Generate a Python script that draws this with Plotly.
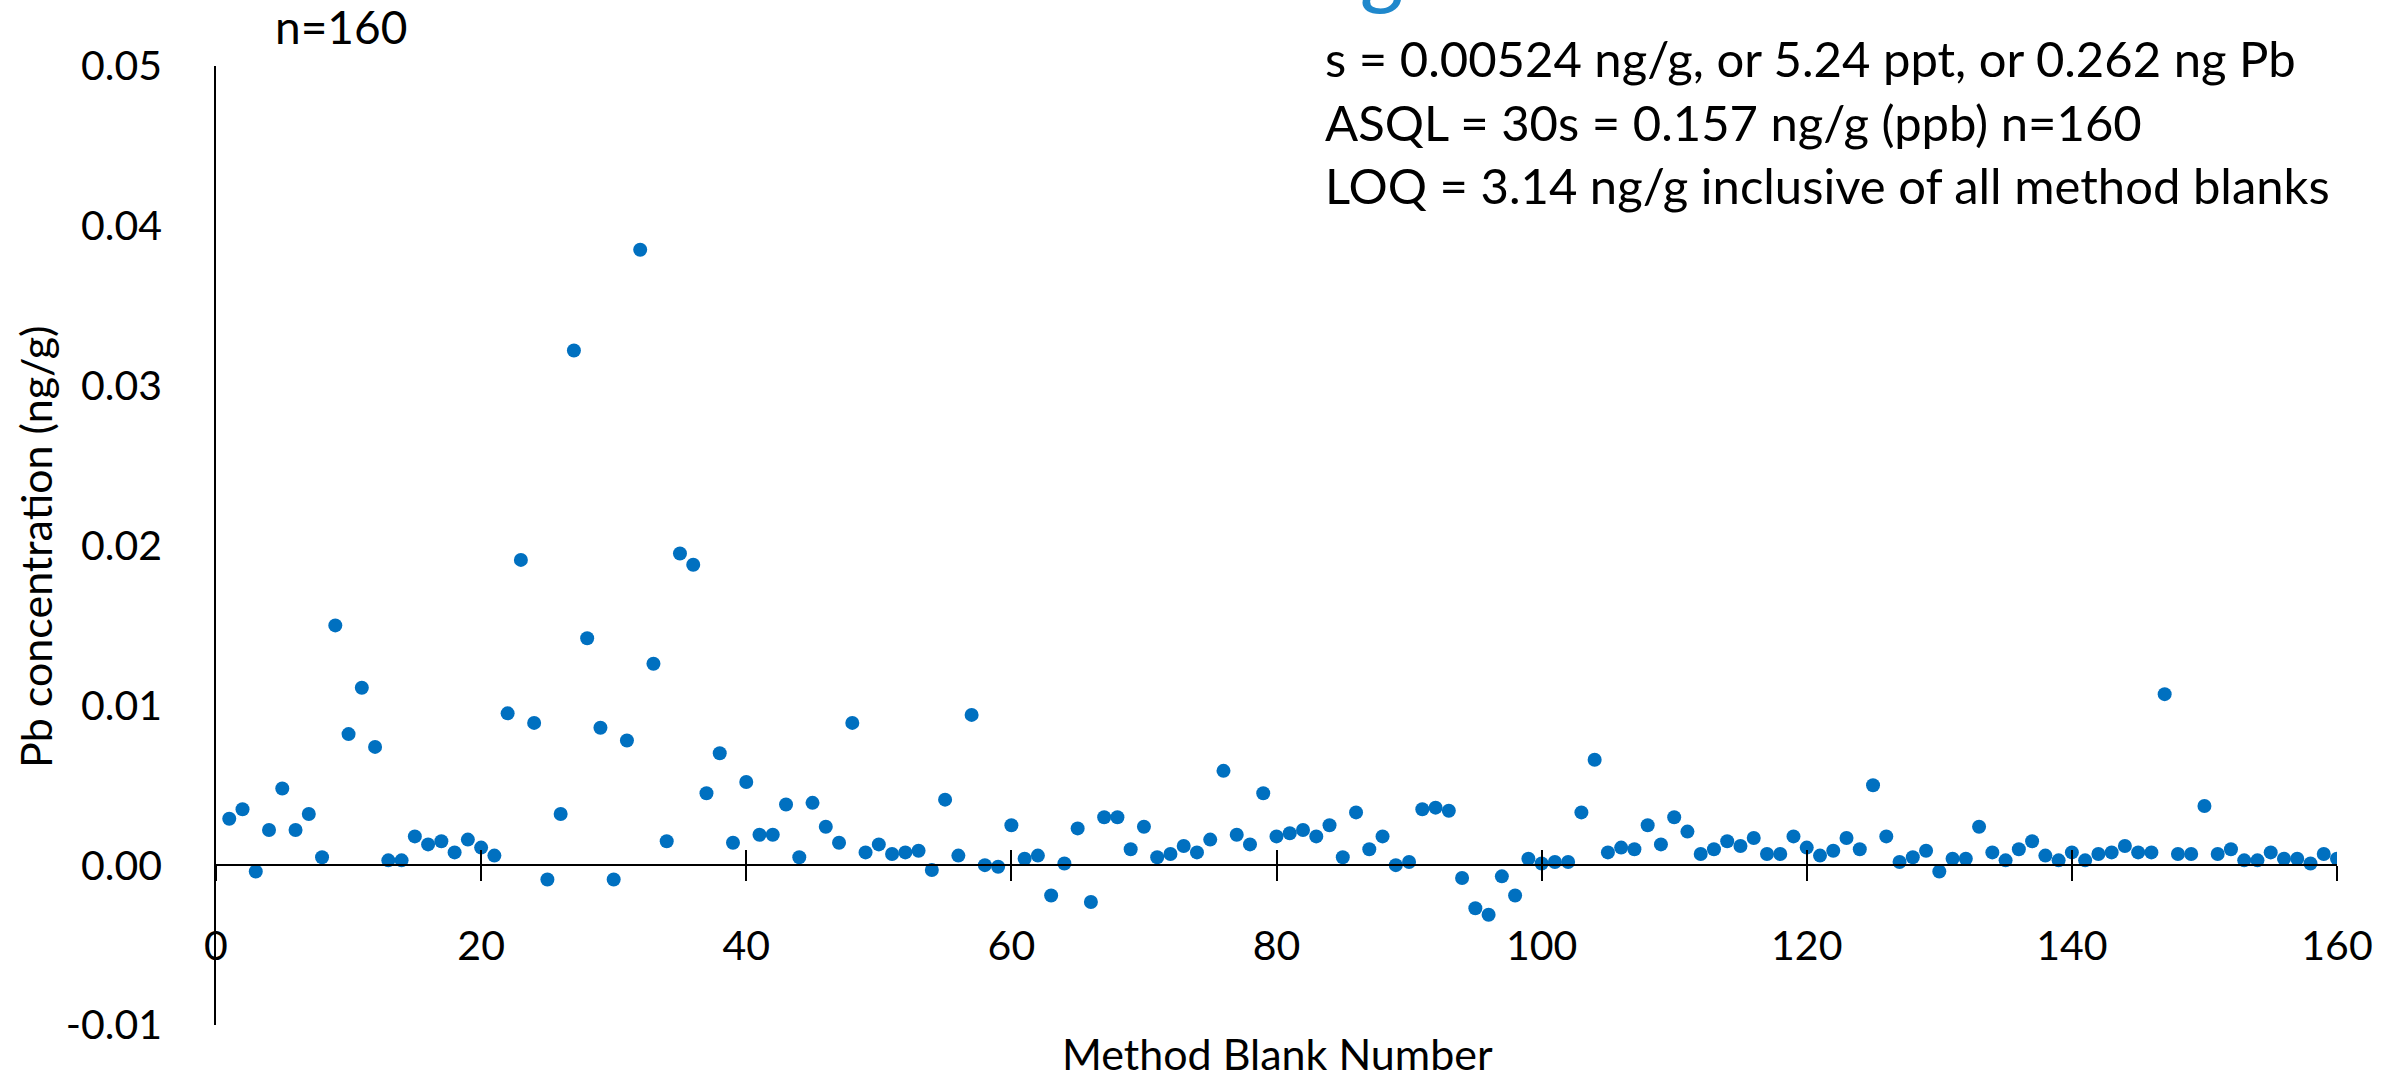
import plotly.graph_objects as go

# ---------------- data ----------------
blank_number = list(range(1, 161))
pb_conc = [
    0.0029, 0.0035, -0.0004, 0.0022, 0.0048, 0.0022, 0.0032, 0.0005, 0.0150, 0.0082,
    0.0111, 0.0074, 0.0003, 0.0003, 0.0018, 0.0013, 0.0015, 0.0008, 0.0016, 0.0011,
    0.0006, 0.0095, 0.0191, 0.0089, -0.0009, 0.0032, 0.0322, 0.0142, 0.0086, -0.0009,
    0.0078, 0.0385, 0.0126, 0.0015, 0.0195, 0.0188, 0.0045, 0.0070, 0.0014, 0.0052,
    0.0019, 0.0019, 0.0038, 0.0005, 0.0039, 0.0024, 0.0014, 0.0089, 0.0008, 0.0013,
    0.0007, 0.0008, 0.0009, -0.0003, 0.0041, 0.0006, 0.0094, 0.0000, -0.0001, 0.0025,
    0.0004, 0.0006, -0.0019, 0.0001, 0.0023, -0.0023, 0.0030, 0.0030, 0.0010, 0.0024,
    0.0005, 0.0007, 0.0012, 0.0008, 0.0016, 0.0059, 0.0019, 0.0013, 0.0045, 0.0018,
    0.0020, 0.0022, 0.0018, 0.0025, 0.0005, 0.0033, 0.0010, 0.0018, 0.0000, 0.0002,
    0.0035, 0.0036, 0.0034, -0.0008, -0.0027, -0.0031, -0.0007, -0.0019, 0.0004, 0.0001,
    0.0002, 0.0002, 0.0033, 0.0066, 0.0008, 0.0011, 0.0010, 0.0025, 0.0013, 0.0030,
    0.0021, 0.0007, 0.0010, 0.0015, 0.0012, 0.0017, 0.0007, 0.0007, 0.0018, 0.0011,
    0.0006, 0.0009, 0.0017, 0.0010, 0.0050, 0.0018, 0.0002, 0.0005, 0.0009, -0.0004,
    0.0004, 0.0004, 0.0024, 0.0008, 0.0003, 0.0010, 0.0015, 0.0006, 0.0003, 0.0008,
    0.0003, 0.0007, 0.0008, 0.0012, 0.0008, 0.0008, 0.0107, 0.0007, 0.0007, 0.0037,
    0.0007, 0.0010, 0.0003, 0.0003, 0.0008, 0.0004, 0.0004, 0.0001, 0.0007, 0.0004,
]
x_tick_vals = [0, 20, 40, 60, 80, 100, 120, 140, 160]
y_tick_vals = [-0.01, 0.0, 0.01, 0.02, 0.03, 0.04, 0.05]
y_tick_text = ["-0.01", "0.00", "0.01", "0.02", "0.03", "0.04", "0.05"]

x_title = "Method Blank Number"
y_title = "Pb concentration (ng/g)"
n_label = "n=160"
stats_lines = [
    "s = 0.00524 ng/g, or 5.24 ppt, or 0.262 ng Pb",
    "ASQL = 30s = 0.157 ng/g (ppb) n=160",
    "LOQ = 3.14 ng/g inclusive of all method blanks",
]
cut_title_fragment = "g"

# ---------------- layout ----------------
FONT = "Lato, 'Open Sans', sans-serif"
W, H = 2405, 1080
L, R, T, B = 216, 68, 66, 55
PW, PH = W - L - R, H - T - B
x_range = [0, 160]
y_range = [-0.01, 0.05]


def px_x(p):
    return (p - L) / PW


def px_y(p):
    return (H - B - p) / PH


zero_pos = (0 - y_range[0]) / (y_range[1] - y_range[0])

fig = go.Figure()
fig.add_trace(go.Scatter(
    x=blank_number, y=pb_conc, mode="markers",
    marker=dict(size=14, color="#0070C0", line=dict(width=0)),
    showlegend=False, hoverinfo="x+y",
))
# empty trace so the overlaid tick axis (upper half of the crossing ticks) is created
fig.add_trace(go.Scatter(x=[], y=[], xaxis="x2", showlegend=False, hoverinfo="skip"))

fig.update_layout(
    width=W, height=H,
    margin=dict(l=L, r=R, t=T, b=B, autoexpand=False),
    paper_bgcolor="white", plot_bgcolor="white",
    font=dict(family=FONT, color="black", size=41),
    showlegend=False,
    xaxis=dict(
        range=x_range, anchor="free", position=zero_pos,
        showline=True, linecolor="black", linewidth=2,
        ticks="outside", ticklen=15, tickwidth=1.5, tickcolor="black",
        tickvals=x_tick_vals, showgrid=False, zeroline=False,
        tickfont=dict(size=41, color="black", family=FONT),
        ticklabelstandoff=30,
    ),
    xaxis2=dict(
        range=x_range, overlaying="x", anchor="free", position=zero_pos,
        showline=False, ticks="inside", ticklen=15, tickwidth=1.5,
        tickcolor="black", tickvals=x_tick_vals, showticklabels=False,
        showgrid=False, zeroline=False,
    ),
    yaxis=dict(
        range=y_range, showline=True, linecolor="black", linewidth=1.5,
        ticks="", tickvals=y_tick_vals, ticktext=y_tick_text,
        showgrid=False, zeroline=False,
        tickfont=dict(size=41, color="black", family=FONT),
        ticklabelstandoff=44,
    ),
)

annotations = [
    dict(text=n_label, x=px_x(273), y=px_y(27), xanchor="left", yanchor="middle",
         font=dict(size=46, color="black", family=FONT)),
    dict(text="<br>".join(stats_lines), x=px_x(1323), y=px_y(121),
         xanchor="left", yanchor="middle", align="left",
         font=dict(size=49, color="black", family=FONT)),
    dict(text=y_title, x=px_x(35), y=px_y(547), textangle=-90,
         xanchor="center", yanchor="middle",
         font=dict(size=43, color="black", family=FONT)),
    dict(text=x_title, x=px_x(1277), y=px_y(1053),
         xanchor="center", yanchor="middle",
         font=dict(size=43, color="black", family=FONT)),
    dict(text=cut_title_fragment, x=px_x(1386), y=px_y(-38),
         xanchor="center", yanchor="middle",
         font=dict(size=90, color="#1F88CC", family=FONT, style="italic")),
]
for a in annotations:
    a.update(xref="paper", yref="paper", showarrow=False)
fig.update_layout(annotations=annotations)

fig.write_html(
    "out.html",
    config={"displayModeBar": False},
    post_script="document.body.style.margin='0';document.body.style.overflow='hidden';",
)
